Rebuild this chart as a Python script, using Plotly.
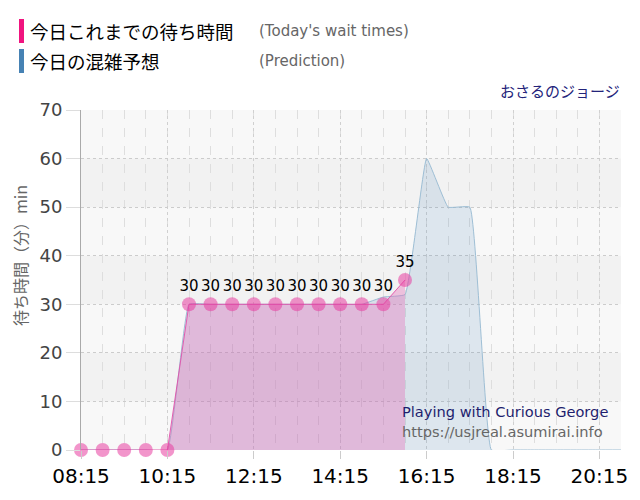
import plotly.graph_objects as go

DAY = "2024-01-01 "
times = ["08:15", "08:45", "09:15", "09:45", "10:15", "10:45", "11:15", "11:45",
         "12:15", "12:45", "13:15", "13:45", "14:15", "14:45", "15:15", "15:45",
         "16:15", "16:45", "17:15", "17:45", "18:15", "18:45", "19:15", "19:45",
         "20:15", "20:45"]
prediction = [0, 0, 0, 0, 0, 30, 30, 30, 30, 30, 30, 30, 30, 30, 31.5, 32,
              60, 50, 50, 0, 0, 0, 0, 0, 0, 0]
today_times = times[:16]
today = [0, 0, 0, 0, 0, 30, 30, 30, 30, 30, 30, 30, 30, 30, 30, 35]
tick_labels = ["08:15", "10:15", "12:15", "14:15", "16:15", "18:15", "20:15"]

x_pred = [DAY + t for t in times]
x_today = [DAY + t for t in today_times]

fig = go.Figure()

fig.add_trace(go.Scatter(
    x=x_pred, y=prediction, mode="lines",
    line=dict(color="rgba(150,185,210,0.9)", width=1, shape="spline", smoothing=0.3),
    fill="tozeroy", fillcolor="rgba(70,130,180,0.15)",
    hoverinfo="skip", showlegend=False))

fig.add_trace(go.Scatter(
    x=x_today, y=today, mode="lines+markers+text",
    line=dict(color="rgba(225,80,170,0.9)", width=1),
    marker=dict(size=14, color="rgba(232,62,160,0.55)", line=dict(width=0)),
    fill="tozeroy", fillcolor="rgba(230,100,180,0.35)",
    text=[str(v) if v else "" for v in today],
    textposition="top center",
    textfont=dict(family="DejaVu Sans", size=15, color="#000"),
    cliponaxis=False, showlegend=False))

fig.update_layout(
    width=632, height=492,
    margin=dict(l=73, r=19, t=102, b=50),
    paper_bgcolor="white", plot_bgcolor="#f8f8f8",
    font=dict(family="Noto Sans CJK JP"),
    xaxis=dict(
        type="date",
        range=[DAY + "08:15", DAY + "20:45"],
        tickvals=[DAY + t for t in tick_labels], ticktext=tick_labels,
        tickfont=dict(family="DejaVu Sans", size=20, color="#000"),
        ticks="outside", ticklen=8, tickcolor="#ccc",
        showgrid=True, gridcolor="#d0d0d0", griddash="dot", gridwidth=1,
        minor=dict(dtick=30 * 60 * 1000, tick0=DAY + "08:15", showgrid=True,
                   gridcolor="#dedede", griddash="dash", gridwidth=1),
        showline=False, zeroline=False, fixedrange=True, automargin=False,
    ),
    yaxis=dict(
        range=[0, 70], dtick=10, automargin=False,
        tickfont=dict(family="DejaVu Sans", size=18, color="#444"),
        ticks="outside", ticklen=14, tickcolor="#ddd",
        showgrid=True, gridcolor="#cccccc", griddash="dot", gridwidth=1,
        showline=True, linecolor="#aaa", linewidth=1, zeroline=False,
    ),
)

for y0 in (10, 30, 50):
    fig.add_shape(type="rect", xref="paper", yref="y", x0=0, x1=1, y0=y0, y1=y0 + 10,
                  fillcolor="#f2f2f2", line=dict(width=0), layer="below")

# page-pixel helpers relative to the plot area (81..621 x, 110..450 y on page)
pw, ph = 540.0, 340.0
def px(x):
    return (x - 81) / pw
def py(y):
    return (450 - y) / ph

fig.add_shape(type="rect", xref="paper", yref="paper", x0=px(19), x1=px(24),
              y0=py(43), y1=py(19), fillcolor="#f0147f", line=dict(width=0))
fig.add_shape(type="rect", xref="paper", yref="paper", x0=px(19), x1=px(24),
              y0=py(73), y1=py(49), fillcolor="#4682b4", line=dict(width=0))

annos = [
    dict(x=px(28), y=py(31), text="今日これまでの待ち時間", size=18.5, color="#000",
         family="Noto Sans CJK JP", xanchor="left"),
    dict(x=px(28), y=py(61), text="今日の混雑予想", size=18.5, color="#000",
         family="Noto Sans CJK JP", xanchor="left"),
    dict(x=px(257), y=py(31), text="(Today's wait times)", size=15, color="#666",
         family="DejaVu Sans", xanchor="left"),
    dict(x=px(257), y=py(61), text="(Prediction)", size=15, color="#666",
         family="DejaVu Sans", xanchor="left"),
    dict(x=px(622), y=py(90), text="おさるのジョージ", size=15, color="#23237a",
         family="Noto Sans CJK JP", xanchor="right"),
    dict(x=px(400), y=py(411), text="Playing with Curious George", size=14.6,
         color="#1e1e6e", family="DejaVu Sans", xanchor="left"),
    dict(x=px(400), y=py(431), text="https://usjreal.asumirai.info", size=14.6,
         color="#666", family="DejaVu Sans", xanchor="left"),
]
for a in annos:
    fig.add_annotation(x=a["x"], y=a["y"], xref="paper", yref="paper", text=a["text"],
                       showarrow=False, xanchor=a["xanchor"], yanchor="middle",
                       font=dict(family=a["family"], size=a["size"], color=a["color"]))

# y-axis title
fig.add_annotation(x=px(20), y=py(256), xref="paper", yref="paper",
                   text="待ち時間（分）min", textangle=-90, showarrow=False,
                   xanchor="center", yanchor="middle", borderpad=0,
                   font=dict(family="Noto Sans CJK JP", size=16, color="#666"))

fig.write_html("out.html")
